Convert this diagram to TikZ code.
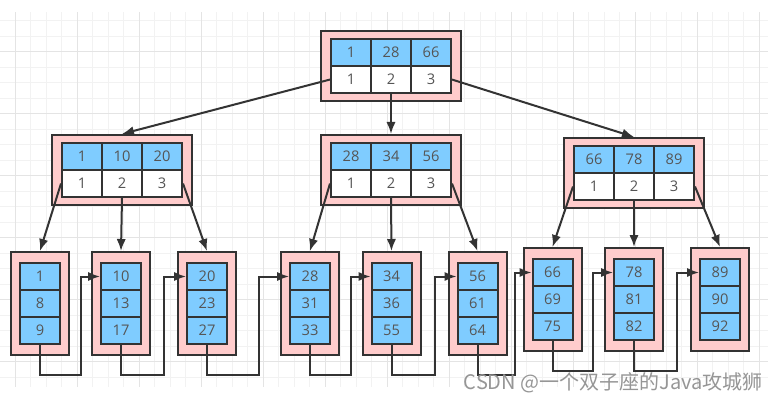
\documentclass[tikz,border=0pt]{standalone}
\usepackage{fontspec}
\setmainfont{Open Sans}
\newfontfamily\cjkfont{Noto Sans CJK SC}
\usepackage{tikz}
\usetikzlibrary{positioning,calc,matrix,arrows.meta}
\definecolor{pinkbox}{RGB}{255,204,204}
\definecolor{cellblue}{RGB}{127,204,255}
\definecolor{linegray}{RGB}{51,51,51}
\definecolor{textgray}{RGB}{85,85,85}
\definecolor{gridminor}{RGB}{242,242,242}
\definecolor{gridmajor}{RGB}{228,228,228}
\definecolor{markgray}{RGB}{150,150,150}

\tikzset{
	cell/.style={draw=linegray, line width=1.5pt, minimum width=30pt, minimum height=20.25pt, inner sep=0pt, text=textgray, font=\fontsize{11}{13}\selectfont},
	inode/.style={matrix of nodes, draw=linegray, fill=pinkbox, line width=1.5pt, inner xsep=6.75pt, inner ysep=5.25pt, column sep=-1.5pt, row sep=-1.5pt, nodes={cell}, row 1/.style={nodes={fill=cellblue}}, row 2/.style={nodes={fill=white}}},
	leaf/.style={matrix of nodes, draw=linegray, fill=pinkbox, line width=1.5pt, inner xsep=6pt, inner ysep=7.5pt, row sep=-1.5pt, nodes={cell, fill=cellblue}},
	treearrow/.style={draw=linegray, line width=1.5pt, -{Latex[length=9pt,width=7pt]}},
	chainarrow/.style={draw=linegray, line width=1.5pt, -{Latex[length=9pt,width=7pt]}}
}

\begin{document}
\begin{tikzpicture}[x=0.75pt,y=-0.75pt]
		
		\fill[white] (0,0) rectangle (776,404);
		\useasboundingbox (0,0) rectangle (776,404);
		
		%grid
		\foreach \k in {1,...,49} \draw[gridminor,line width=0.75pt] ({-0.3+15.5*\k},12) -- ({-0.3+15.5*\k},387);
		\foreach \k in {1,...,24} \draw[gridminor,line width=0.75pt] (0,{5.2+15.5*\k}) -- (768,{5.2+15.5*\k});
		\foreach \k in {1,5,...,49} \draw[gridmajor,line width=0.75pt] ({-0.3+15.5*\k},12) -- ({-0.3+15.5*\k},387);
		\foreach \k in {3,7,...,23} \draw[gridmajor,line width=0.75pt] (0,{5.2+15.5*\k}) -- (768,{5.2+15.5*\k});
		
		\matrix[inode] (root) at (391,66) {1 & 28 & 66\\ 1 & 2 & 3\\};
		
		\matrix[inode] (midA) at (122,170) {1 & 10 & 20\\ 1 & 2 & 3\\};
		\matrix[inode] (midB) at (391,170) {28 & 34 & 56\\ 1 & 2 & 3\\};
		\matrix[inode] (midC) at (634,173) {66 & 78 & 89\\ 1 & 2 & 3\\};
		
		\matrix[leaf] (leafA) at (40,303.5) {1\\ 8\\ 9\\};
		\matrix[leaf] (leafB) at (121,303.5) {10\\ 13\\ 17\\};
		\matrix[leaf] (leafC) at (207,303.5) {20\\ 23\\ 27\\};
		\matrix[leaf] (leafD) at (310,303.5) {28\\ 31\\ 33\\};
		\matrix[leaf] (leafE) at (391.5,303.5) {34\\ 36\\ 55\\};
		\matrix[leaf] (leafF) at (477.5,303.5) {56\\ 61\\ 64\\};
		\matrix[leaf] (leafG) at (552.5,299.5) {66\\ 69\\ 75\\};
		\matrix[leaf] (leafH) at (634,299.5) {78\\ 81\\ 82\\};
		\matrix[leaf] (leafI) at (720,299.5) {89\\ 90\\ 92\\};
		
		%root to inner nodes
		\draw[treearrow] (root-2-1.west) -- (midA.north);
		\draw[treearrow] (root-2-2.south) -- (midB.north);
		\draw[treearrow] (root-2-3.east) -- (midC.north);
		
		%inner nodes to leaves
		\draw[treearrow] (midA-2-1.west) -- (leafA.north);
		\draw[treearrow] (midA-2-2.south) -- (leafB.north);
		\draw[treearrow] (midA-2-3.east) -- (leafC.north);
		\draw[treearrow] (midB-2-1.west) -- (leafD.north);
		\draw[treearrow] (midB-2-2.south) -- (leafE.north);
		\draw[treearrow] (midB-2-3.east) -- (leafF.north);
		\draw[treearrow] (midC-2-1.west) -- (leafG.north);
		\draw[treearrow] (midC-2-2.south) -- (leafH.north);
		\draw[treearrow] (midC-2-3.east) -- (leafI.north);
		
		%leaf chain
		\draw[chainarrow] (leafA-3-1.south) -- ++(0,30) -| ($(leafA.east)!0.5!(leafB.west)$) |- (leafB-1-1.west);
		\draw[chainarrow] (leafB-3-1.south) -- ++(0,30) -| ($(leafB.east)!0.5!(leafC.west)$) |- (leafC-1-1.west);
		\draw[chainarrow] (leafC-3-1.south) -- ++(0,30) -| ($(leafC.east)!0.5!(leafD.west)$) |- (leafD-1-1.west);
		\draw[chainarrow] (leafD-3-1.south) -- ++(0,30) -| ($(leafD.east)!0.5!(leafE.west)$) |- (leafE-1-1.west);
		\draw[chainarrow] (leafE-3-1.south) -- ++(0,30) -| ($(leafE.east)!0.5!(leafF.west)$) |- (leafF-1-1.west);
		\draw[chainarrow] (leafF-3-1.south) -- ++(0,30) -| ($(leafF.east)!0.5!(leafG.west)$) |- (leafG-1-1.west);
		\draw[chainarrow] (leafG-3-1.south) -- ++(0,30) -| ($(leafG.east)!0.5!(leafH.west)$) |- (leafH-1-1.west);
		\draw[chainarrow] (leafH-3-1.south) -- ++(0,30) -| ($(leafH.east)!0.5!(leafI.west)$) |- (leafI-1-1.west);
		
		\node[anchor=east, inner sep=0pt, text=markgray, font=\cjkfont\fontsize{15}{18}\selectfont] (mark) at (763,383) {CSDN @一个双子座的Java攻城狮};
		
\end{tikzpicture}
\end{document}
